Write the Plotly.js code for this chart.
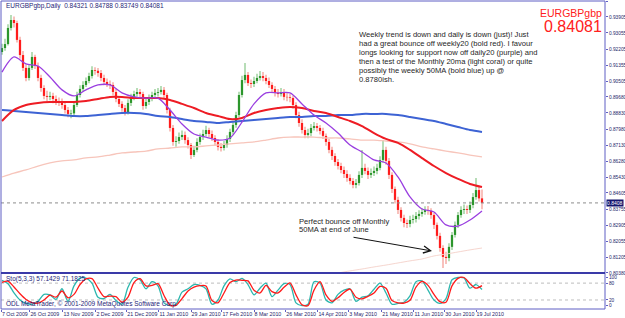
<!DOCTYPE html>
<html><head><meta charset="utf-8">
<script src="https://cdn.plot.ly/plotly-3.0.1.min.js"></script>
<style>html,body{margin:0;padding:0;background:#fff;overflow:hidden}#chart{width:625px;height:318px}</style>
</head><body><div id="chart"></div>
<script>
const symbol = 'EURGBPgbp';
const timeframe = 'Daily';
// daily bars (Oct 2009 - Jul 2010)
const O = [
.9205,.9226,.9247,.9332,.9374,.9358,.9269,.9189,.9121,.9068,
.9121,.9179,.9131,.9068,.9015,.8973,.8968,.8973,.8957,.8946,
.8941,.8925,.8899,.8878,.8881,.8925,.8978,.9010,.9031,.9052,
.9078,.9110,.9106,.9094,.9068,.9047,.9036,.9031,.8994,.8957,
.8931,.8909,.8888,.8936,.8968,.8983,.8994,.8983,.8920,.8941,
.8962,.8978,.8989,.8994,.9005,.8978,.8899,.8804,.8730,.8735,
.8756,.8767,.8740,.8714,.8661,.8688,.8730,.8756,.8772,.8793,
.8772,.8751,.8730,.8704,.8698,.8714,.8746,.8783,.8820,.8872,
.8978,.9057,.9084,.9041,.9036,.9052,.9068,.9078,.9068,.9052,
.9031,.9010,.8989,.8983,.8994,.8968,.8966,.8962,.8925,.8872,
.8830,.8793,.8767,.8777,.8804,.8814,.8804,.8788,.8762,.8730,
.8688,.8656,.8624,.8603,.8582,.8561,.8540,.8524,.8503,.8513,
.8556,.8593,.8577,.8556,.8566,.8577,.8593,.8635,.8688,.8630,
.8556,.8482,.8424,.8371,.8329,.8302,.8297,.8318,.8323,.8339,
.8350,.8360,.8371,.8366,.8344,.8292,.8234,.8170,.8123,.8117,
.8176,.8239,.8292,.8344,.8371,.8376,.8371,.8397,.8439,.8476,
.84321];
const H = [
.9248,.9275,.9352,.9400,.9392,.9370,.9285,.9210,.9140,.9140,
.9205,.9190,.9150,.9085,.9030,.9000,.8995,.8990,.8975,.8965,
.8960,.8940,.8915,.8900,.8945,.8995,.9030,.9050,.9070,.9095,
.9130,.9125,.9120,.9110,.9085,.9065,.9055,.9045,.9010,.8970,
.8945,.8925,.8955,.8985,.9000,.9015,.9010,.8995,.8960,.8980,
.8995,.9010,.9015,.9025,.9020,.8990,.8910,.8820,.8760,.8780,
.8790,.8785,.8755,.8725,.8710,.8750,.8775,.8795,.8815,.8805,
.8790,.8765,.8745,.8725,.8735,.8765,.8800,.8840,.8890,.8995,
.9080,.9147,.9100,.9060,.9075,.9090,.9105,.9100,.9085,.9070,
.9045,.9025,.9010,.9015,.9010,.8990,.8985,.8975,.8940,.8890,
.8850,.8810,.8800,.8825,.8835,.8830,.8820,.8805,.8775,.8745,
.8705,.8670,.8640,.8620,.8600,.8580,.8560,.8540,.8535,.8575,
.8688,.8615,.8595,.8590,.8600,.8615,.8655,.8740,.8705,.8645,
.8570,.8495,.8440,.8385,.8345,.8320,.8340,.8345,.8360,.8370,
.8380,.8390,.8392,.8380,.8355,.8305,.8250,.8185,.8150,.8195,
.8255,.8310,.8360,.8390,.8400,.8395,.8415,.8460,.8540,.8495,
.84788];
const L = [
.9190,.9212,.9240,.9318,.9335,.9255,.9170,.9105,.9050,.9055,
.9110,.9115,.9050,.8995,.8955,.8945,.8950,.8935,.8925,.8920,
.8905,.8880,.8860,.8855,.8870,.8915,.8965,.8995,.9020,.9040,
.9065,.9085,.9075,.9050,.9030,.9020,.9010,.8975,.8940,.8915,
.8890,.8870,.8875,.8920,.8950,.8970,.8965,.8900,.8905,.8925,
.8945,.8965,.8970,.8980,.8960,.8880,.8785,.8710,.8705,.8720,
.8740,.8720,.8695,.8640,.8650,.8675,.8715,.8740,.8760,.8755,
.8735,.8710,.8685,.8680,.8685,.8700,.8730,.8770,.8805,.8860,
.8965,.9040,.9025,.9015,.9020,.9040,.9055,.9050,.9035,.9015,
.8990,.8970,.8965,.8970,.8950,.8945,.8940,.8905,.8855,.8810,
.8775,.8750,.8750,.8760,.8790,.8785,.8770,.8745,.8710,.8670,
.8635,.8605,.8585,.8565,.8540,.8520,.8505,.8485,.8485,.8500,
.8540,.8560,.8535,.8540,.8550,.8560,.8580,.8620,.8610,.8535,
.8460,.8405,.8350,.8310,.8280,.8275,.8280,.8300,.8305,.8320,
.8335,.8345,.8345,.8325,.8270,.8215,.8150,.8065,.8085,.8100,
.8160,.8225,.8275,.8330,.8350,.8350,.8355,.8380,.8425,.8415,
.83749];
const C = [
.9226,.9247,.9332,.9374,.9358,.9269,.9189,.9121,.9068,.9121,
.9179,.9131,.9068,.9015,.8973,.8968,.8973,.8957,.8946,.8941,
.8925,.8899,.8878,.8881,.8925,.8978,.9010,.9031,.9052,.9078,
.9110,.9106,.9094,.9068,.9047,.9036,.9031,.8994,.8957,.8931,
.8909,.8888,.8936,.8968,.8983,.8994,.8983,.8920,.8941,.8962,
.8978,.8989,.8994,.9005,.8978,.8899,.8804,.8730,.8735,.8756,
.8767,.8740,.8714,.8661,.8688,.8730,.8756,.8772,.8793,.8772,
.8751,.8730,.8704,.8698,.8714,.8746,.8783,.8820,.8872,.8978,
.9057,.9084,.9041,.9036,.9052,.9068,.9078,.9068,.9052,.9031,
.9010,.8989,.8983,.8994,.8968,.8966,.8962,.8925,.8872,.8830,
.8793,.8767,.8777,.8804,.8814,.8804,.8788,.8762,.8730,.8688,
.8656,.8624,.8603,.8582,.8561,.8540,.8524,.8503,.8513,.8556,
.8593,.8577,.8556,.8566,.8577,.8593,.8635,.8688,.8630,.8556,
.8482,.8424,.8371,.8329,.8302,.8297,.8318,.8323,.8339,.8350,
.8360,.8371,.8366,.8344,.8292,.8234,.8170,.8123,.8117,.8176,
.8239,.8292,.8344,.8371,.8376,.8371,.8397,.8439,.8476,.8432,
.84081];

// moving averages, sampled every 4 bars
const maStep = 4;
const daily20 = [.9099,.9179,.9142,.9131,.9073,.9005,.8973,.9005,.9031,.9031,
.8989,.8968,.8962,.8962,.8899,.8825,.8772,.8756,.8740,.8751,
.8835,.8931,.8989,.8989,.8989,.8931,.8872,.8830,.8777,.8714,
.8677,.8635,.8619,.8545,.8440,.8376,.8360,.8292,.8286,.8318,.8366];
const weekly20 = [.8841,.8899,.8925,.8936,.8941,.8941,.8941,.8946,.8957,.8968,
.8968,.8962,.8962,.8962,.8952,.8931,.8909,.8883,.8867,.8851,
.8857,.8883,.8899,.8909,.8915,.8909,.8894,.8883,.8862,.8841,
.8814,.8777,.8746,.8725,.8688,.8645,.8603,.8566,.8535,.8508,.8492];
const weekly50 = [.8899,.8894,.8888,.8883,.8878,.8872,.8867,.8867,.8872,.8878,
.8883,.8883,.8878,.8867,.8862,.8851,.8841,.8836,.8830,.8836,
.8841,.8846,.8851,.8857,.8862,.8862,.8867,.8867,.8872,.8872,
.8878,.8878,.8878,.8872,.8862,.8851,.8841,.8825,.8809,.8793,.8783];
const monthly20 = [.8545,.8566,.8582,.8603,.8619,.8630,.8635,.8646,.8651,.8661,
.8672,.8677,.8682,.8693,.8698,.8704,.8704,.8709,.8714,.8720,
.8725,.8730,.8740,.8751,.8756,.8756,.8756,.8751,.8751,.8746,
.8740,.8740,.8735,.8730,.8720,.8704,.8693,.8682,.8672,.8661,.8651];
const monthly50Start = 100;
const monthly50 = [.8007,.8017,.8028,.8038,.8049,.8059,.8070,.8080,.8091,.8102,.8112,.8128,.8138,.8149,.8160,.8170];

// stochastic (5,3,3), sampled every 2 bars
const stoStep = 2;
const stoK = [90,78,45,20,8,5,15,40,38,22, 60,15,70,98,98,80,30,25,40,18,
5,65,100,92,60,85,70,10,0,5, 48,60,75,72,60,5,20,70,95,85,
97,75,38,62,80,32,55,78,75,10, 0,5,85,80,20,10,40,55,60,15,
30,35,58,80,45,5,8,12,35,85, 88,55,20,8,25,92,100,98,62,75, 57.1429];
const stoD = [83,87,66,42,22,11,9,20,37,30, 52,28,40,75,95,96,62,32,34,32,
12,30,82,96,70,72,78,36,2,1, 25,52,66,71,70,18,10,45,82,91,
90,88,55,45,72,50,45,65,81,38, 3,0,55,85,38,15,28,47,59,30,
24,33,45,68,62,18,10,9,19,66, 86,72,40,14,12,70,97,100,78,62, 71.1825];
const stoLevels = [20, 80];
const stoTicks = [0, 20, 80, 100];

const priceTicks = [0.94730,0.93905,0.93055,0.92205,0.91355,0.90505,0.89680,0.88830,0.87980,0.87130,0.86280,0.85430,0.84605,0.83755,0.82905,0.82055,0.81205,0.80380];
const dateTickIdx = [-0.2,9.3,20.3,31.3,41.6,52.3,63,73.3,84,94.6,105.3,115.6,126.6,137.3,147.6,158];
const dateLabels = ['7 Oct 2009','26 Oct 2009','13 Nov 2009','2 Dec 2009','21 Dec 2009','11 Jan 2010','29 Jan 2010','17 Feb 2010','8 Mar 2010','26 Mar 2010','14 Apr 2010','3 May 2010','21 May 2010','11 Jun 2010','30 Jun 2010','19 Jul 2010'];

const commentLines = [
 'Weekly trend is down and daily is down (just)! Just',
 'had a great bounce off weekly20 (bold red). I favour',
 'longs looking for support now off daily20 (purple) and',
 'then a test of the Monthly 20ma (light coral) or quite',
 'possibly the weekly 50MA (bold blue) up @',
 '0.8780ish.'];
const noteLines = ['Perfect bounce off Monthly', '50MA at end of June'];
const copyright = 'ODL MetaTrader, \u00a9 2001-2009 MetaQuotes Software Corp.';

// ---------- build ----------
const FONT = 'Liberation Sans, Arial, sans-serif';
const FRAME = '#5f5fc4';
const AXTXT = '#25256a';
const n = C.length - 1;
const idx = C.map((_, i) => i);
const up = C.map((c, i) => c >= O[i]);

const traces = [];
traces.push({type:'bar', x: idx, y: H.map((h,i)=>h-L[i]), base: L, width: 0.5,
  marker:{color: up.map(u => u ? '#9fd29f' : '#f6aca6'), line:{width:0}}, xaxis:'x', yaxis:'y', hoverinfo:'skip'});
traces.push({type:'bar', x: idx, y: C.map((c,i)=>c-O[i]), base: O, width: 0.75,
  marker:{color: up.map(u => u ? '#2c962c' : '#ff1c1c'), line:{width:0}}, xaxis:'x', yaxis:'y', hoverinfo:'skip'});

function maTrace(vals, start, step, color, w){
  return {type:'scatter', mode:'lines', x: vals.map((_,k)=>start + k*step), y: vals,
    line:{color:color, width:w, shape:'spline', smoothing:0.8}, xaxis:'x', yaxis:'y', hoverinfo:'skip'};
}
traces.push(maTrace(monthly50, monthly50Start, maStep, '#f6d6cf', 1));
traces.push(maTrace(monthly20, 0, maStep, '#f7c5bb', 1.3));
traces.push(maTrace(weekly50, 0, maStep, '#3d63d4', 2));
traces.push(maTrace(weekly20, 0, maStep, '#ee1c24', 2));
traces.push(maTrace(daily20, 0, maStep, '#9a3fe0', 1.3));

traces.push({type:'scatter', mode:'lines', x: stoK.map((_,k)=>k*stoStep), y: stoK,
  line:{color:'#2cb7ae', width:1.3, shape:'spline', smoothing:0.8}, xaxis:'x', yaxis:'y2', hoverinfo:'skip'});
traces.push({type:'scatter', mode:'lines', x: stoD.map((_,k)=>k*stoStep), y: stoD,
  line:{color:'#ff1a1a', width:1.3, shape:'spline', smoothing:0.8}, xaxis:'x', yaxis:'y2', hoverinfo:'skip'});

// paper helpers (plot area: x 1..605, y 1..309)
const px = v => (v - 1) / 604;
const py = v => (309 - v) / 308;

const shapes = [
  {type:'line', xref:'paper', yref:'y', x0:0, x1:1, y0:C[n], y1:C[n], line:{color:'#8c8c8c', width:1, dash:'dot'}},
  {type:'rect', xref:'paper', yref:'y domain', x0:0, x1:1, y0:0, y1:1, line:{color:FRAME, width:1}},
  {type:'rect', xref:'paper', yref:'y2 domain', x0:0, x1:1, y0:0, y1:1, line:{color:FRAME, width:1}},
  {type:'line', xref:'paper', yref:'y domain', x0:0, x1:1, y0:0, y1:0, line:{color:'#3a3aa8', width:2}}
];
stoLevels.forEach(v => shapes.push({type:'line', xref:'paper', yref:'y2', x0:0, x1:1, y0:v, y1:v,
  line:{color:'#bdbdbd', width:1, dash:'dot'}, layer:'below'}));

const smallFont = {family: FONT, size: 6.5, color: '#1e1e78'};
const ann = [];
ann.push({xref:'paper', yref:'paper', x:px(4), y:py(6), xanchor:'left', yanchor:'middle', showarrow:false,
  text: symbol + ',' + timeframe + '\u00a0 ' + O[n].toFixed(5) + ' ' + H[n].toFixed(5) + ' ' + L[n].toFixed(5) + ' ' + C[n].toFixed(5),
  font: smallFont});
ann.push({xref:'paper', yref:'paper', x:px(604), y:py(13), xanchor:'right', yanchor:'middle', showarrow:false,
  text: symbol, font:{family:FONT, size:10.5, color:'#ff2020'}});
ann.push({xref:'paper', yref:'paper', x:px(604), y:py(26), xanchor:'right', yanchor:'middle', showarrow:false,
  text: C[n].toFixed(5), font:{family:FONT, size:16, color:'#ff2020'}});
commentLines.forEach((t, k) => ann.push({xref:'paper', yref:'paper', x:px(357), y:py(34.7 + 9*k), xanchor:'left', yanchor:'middle',
  showarrow:false, text:t, font:{family:FONT, size:7.6, color:'#262626'}}));
noteLines.forEach((t, k) => ann.push({xref:'paper', yref:'paper', x:px(297), y:py(221 + 9*k), xanchor:'left', yanchor:'middle',
  showarrow:false, text:t, font:{family:FONT, size:7.6, color:'#262626'}}));
ann.push({xref:'paper', yref:'paper', x:px(432), y:py(251), ax:-80, ay:-14, text:'', showarrow:true,
  arrowhead:5, arrowsize:1.4, arrowwidth:1, arrowcolor:'#111'});
ann.push({xref:'paper', yref:'paper', x:px(4), y:py(279), xanchor:'left', yanchor:'middle', showarrow:false,
  text:'Sto(5,3,3) ' + stoK[stoK.length-1].toFixed(4) + ' ' + stoD[stoD.length-1].toFixed(4), font: smallFont});
ann.push({xref:'paper', yref:'paper', x:px(4), y:py(304), xanchor:'left', yanchor:'middle', showarrow:false,
  text: copyright, font: smallFont});
ann.push({xref:'paper', yref:'y', x:px(606), y:C[n], xanchor:'left', yanchor:'middle', showarrow:false,
  text: C[n].toFixed(4), bgcolor:'#15156e', borderpad:0, font:{family:FONT, size:5, color:'#ffffff'}});

const layout = {
  width:625, height:318, margin:{l:1, r:20, t:1, b:9},
  paper_bgcolor:'#ffffff', plot_bgcolor:'#ffffff', showlegend:false, barmode:'overlay',
  font:{family:FONT, size:6.5, color:AXTXT},
  xaxis:{domain:[0,1], range:[-0.333, 201], anchor:'y2', showgrid:false, zeroline:false, showline:false,
    tickmode:'array', tickvals:dateTickIdx, ticktext:dateLabels, ticks:'outside', ticklen:2, tickcolor:FRAME, tickangle:0,
    ticklabelposition:'outside right', ticklabelstandoff:0, tickfont:{family:FONT, size:5.3, color:AXTXT}, automargin:false, fixedrange:true},
  yaxis:{domain:[0.1169,1], range:[0.8038, 0.94744], side:'right', anchor:'x', showgrid:false, zeroline:false, showline:false,
    tickmode:'array', tickvals:priceTicks, ticktext:priceTicks.map(v=>v.toFixed(5)), ticks:'outside', ticklen:2, tickcolor:FRAME,
    ticklabelstandoff:0, tickfont:{family:FONT, size:4.8, color:AXTXT}, automargin:false, fixedrange:true},
  yaxis2:{domain:[0,0.1169], range:[-12,116], side:'right', anchor:'x', showgrid:false, zeroline:false, showline:false,
    tickmode:'array', tickvals:stoTicks, ticktext:stoTicks.map(String), ticks:'outside', ticklen:2, tickcolor:FRAME,
    ticklabelstandoff:0, tickfont:{family:FONT, size:4.8, color:AXTXT}, automargin:false, fixedrange:true},
  shapes: shapes, annotations: ann
};
Plotly.newPlot('chart', traces, layout, {staticPlot:true, displayModeBar:false});
</script></body></html>
